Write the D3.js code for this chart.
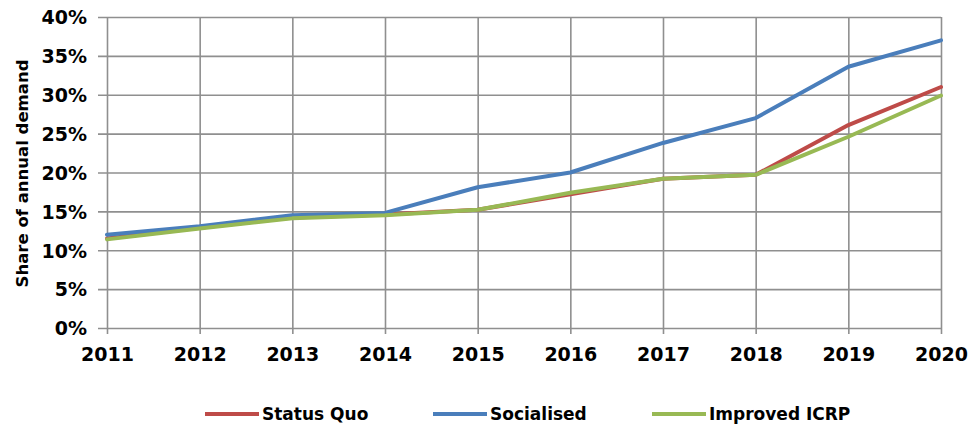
<!DOCTYPE html>
<html>
<head>
<meta charset="utf-8">
<script src="https://cdn.jsdelivr.net/npm/d3@7"></script>
<style>
  html, body { margin: 0; padding: 0; background: #fff; }
  svg text { font-family: "DejaVu Sans", sans-serif; font-weight: bold; fill: #000; }
</style>
</head>
<body>
<svg id="chart" width="973" height="425"></svg>
<script>
// Years on the horizontal axis
const years = [2011, 2012, 2013, 2014, 2015, 2016, 2017, 2018, 2019, 2020];

// Share of annual demand (%) per scenario
const statusQuo    = [11.5, 12.9, 14.2, 14.6, 15.2, 17.2, 19.2, 19.7, 26.1, 31.0];
const socialised   = [12.0, 13.1, 14.5, 14.8, 18.1, 20.0, 23.8, 27.0, 33.6, 37.0];
const improvedICRP = [11.4, 12.8, 14.1, 14.5, 15.2, 17.4, 19.2, 19.7, 24.6, 29.9];

const yTicks = [0, 5, 10, 15, 20, 25, 30, 35, 40];
const seriesNames = ["Status Quo", "Socialised", "Improved ICRP"];
const seriesColors = ["#BE4B48", "#4A7EBB", "#98B954"];

const series = [statusQuo, socialised, improvedICRP].map((vals, i) => ({
  name: seriesNames[i], color: seriesColors[i], values: vals
}));

const svg = d3.select("#chart");
const plotLeft = 107, plotRight = 941, plotTop = 17, plotBottom = 328;

const x = d3.scaleLinear().domain([years[0], years[years.length - 1]]).range([plotLeft, plotRight]);
const y = d3.scaleLinear().domain([0, 40]).range([plotBottom, plotTop]);

const gridColor = "#8f8f8f";

// Horizontal gridlines with outer ticks, plus left labels
const yAxis = d3.axisLeft(y).tickValues(yTicks).tickFormat(d => d + "%")
  .tickSize(-(plotRight - plotLeft)).tickPadding(10);
const gy = svg.append("g").attr("transform", `translate(${plotLeft},0)`).call(yAxis);
gy.select(".domain").remove();
gy.selectAll(".tick line").attr("stroke", gridColor).attr("stroke-width", 1.6)
  .attr("x1", -9);
gy.selectAll(".tick text").attr("font-size", 19).attr("x", -20).attr("dy", "0.36em");

// Vertical gridlines with ticks below the axis, plus year labels
const xAxis = d3.axisBottom(x).tickValues(years).tickFormat(d3.format("d"))
  .tickSize(-(plotBottom - plotTop)).tickPadding(14);
const gx = svg.append("g").attr("transform", `translate(0,${plotBottom})`).call(xAxis);
gx.select(".domain").remove();
gx.selectAll(".tick line").attr("stroke", gridColor).attr("stroke-width", 1.6)
  .attr("y1", 6);
gx.selectAll(".tick text").attr("font-size", 19).attr("y", 20).attr("dy", "0.71em");

// Axis title
svg.append("text")
  .attr("transform", `translate(28,${(plotTop + plotBottom) / 2 + 1}) rotate(-90)`)
  .attr("text-anchor", "middle")
  .attr("font-size", 16.5)
  .text("Share of annual demand");

// Scenario lines
const line = d3.line().x((d, i) => x(years[i])).y(d => y(d));
svg.append("g").selectAll("path").data(series).join("path")
  .attr("d", d => line(d.values))
  .attr("fill", "none")
  .attr("stroke", d => d.color)
  .attr("stroke-width", 4)
  .attr("stroke-linejoin", "round")
  .attr("stroke-linecap", "round");

// Legend
const legendX = [205, 433, 652];
const legendY = 414;
const lg = svg.append("g").selectAll("g").data(series).join("g")
  .attr("transform", (d, i) => `translate(${legendX[i]},${legendY})`);
lg.append("line").attr("x1", 0).attr("x2", 54).attr("y1", 0).attr("y2", 0)
  .attr("stroke", d => d.color).attr("stroke-width", 4);
lg.append("text").attr("x", 57).attr("dy", "0.36em").attr("font-size", 17)
  .text(d => d.name);
</script>
</body>
</html>
